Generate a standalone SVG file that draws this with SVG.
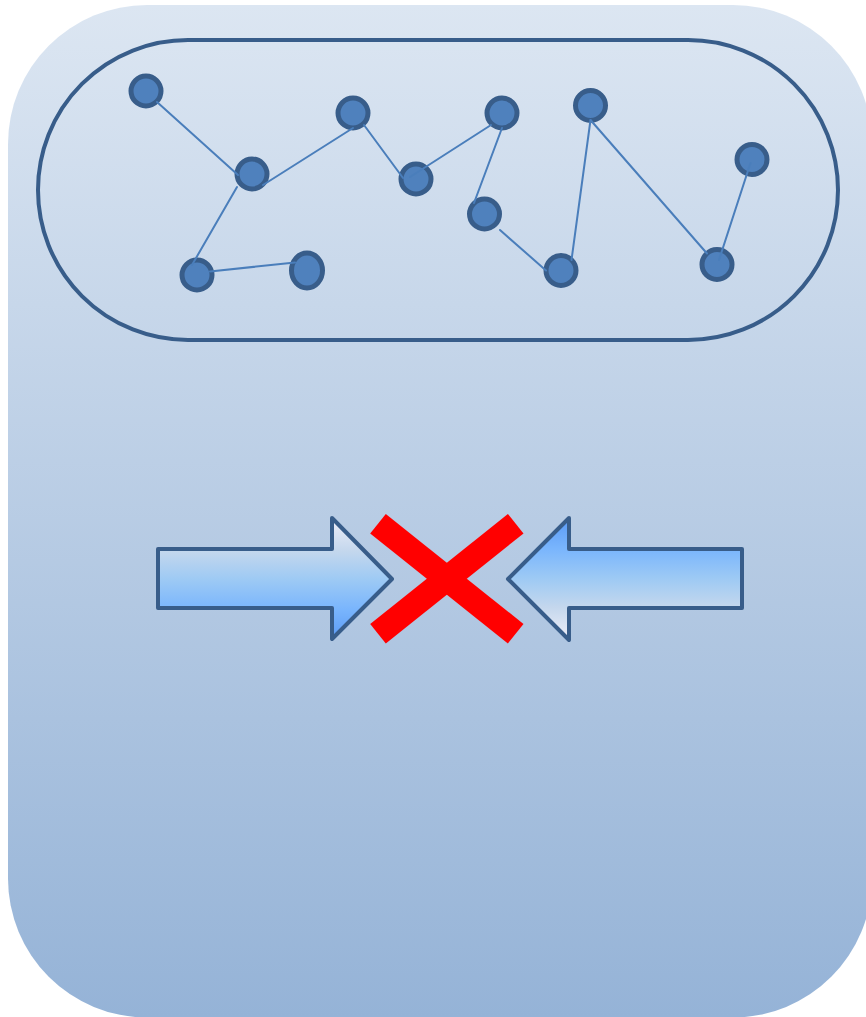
<svg xmlns="http://www.w3.org/2000/svg" width="866" height="1017" viewBox="0 0 866 1017">
  <defs>
    <linearGradient id="bg" x1="0" y1="0" x2="0" y2="1">
      <stop offset="0" stop-color="#dce6f2"/>
      <stop offset="1" stop-color="#95b3d7"/>
    </linearGradient>
    <linearGradient id="arrR" gradientUnits="userSpaceOnUse" x1="0" y1="518" x2="0" y2="640">
      <stop offset="0" stop-color="#eeeef8"/>
      <stop offset="0.27" stop-color="#c4d7ed"/>
      <stop offset="0.5" stop-color="#9ecaf4"/>
      <stop offset="0.75" stop-color="#79b5fd"/>
      <stop offset="1" stop-color="#5a9af5"/>
    </linearGradient>
    <linearGradient id="arrL" gradientUnits="userSpaceOnUse" x1="0" y1="640" x2="0" y2="518">
      <stop offset="0" stop-color="#eeeef8"/>
      <stop offset="0.27" stop-color="#c4d7ed"/>
      <stop offset="0.5" stop-color="#9ecaf4"/>
      <stop offset="0.75" stop-color="#79b5fd"/>
      <stop offset="1" stop-color="#5a9af5"/>
    </linearGradient>
    <style>
      .node { fill: #4f81bd; stroke: #385d8a; stroke-width: 5; }
      .edge { stroke: #4a7ebb; stroke-width: 2; fill: none; stroke-linecap: round; }
      .arrow { stroke: #385d8a; stroke-width: 4; stroke-linejoin: round; }
      .cross { stroke: #ff0000; stroke-width: 25; stroke-linecap: butt; }
    </style>
  </defs>

  <rect id="background" x="8" y="5" width="864" height="1012.5" rx="139" ry="139" fill="url(#bg)"/>

  <rect id="cluster" x="38" y="40" width="800" height="300" rx="150" ry="150" fill="none" stroke="#385d8a" stroke-width="4"/>

  <g id="nodes">
    <g id="n1"><circle class="node" cx="146" cy="91" r="15"/></g>
    <g id="n2"><circle class="node" cx="252" cy="174" r="15"/></g>
    <g id="n3"><circle class="node" cx="197" cy="275" r="15"/></g>
    <g id="n4"><ellipse class="node" cx="307" cy="270.5" rx="15.5" ry="17.5"/></g>
    <g id="n5"><circle class="node" cx="353" cy="113" r="15"/></g>
    <g id="n6"><circle class="node" cx="416" cy="179" r="15"/></g>
    <g id="n7"><circle class="node" cx="502" cy="113" r="15"/></g>
    <g id="n8"><circle class="node" cx="484.5" cy="214" r="15"/></g>
    <g id="n9"><circle class="node" cx="561" cy="270.5" r="15"/></g>
    <g id="n10"><circle class="node" cx="590.5" cy="105.5" r="15"/></g>
    <g id="n11"><circle class="node" cx="752" cy="159.5" r="15"/></g>
    <g id="n12"><circle class="node" cx="717" cy="264.5" r="15"/></g>
  </g>

  <g id="connectors">
    <line class="edge" x1="157" y1="102" x2="238" y2="175"/>
    <line class="edge" x1="263" y1="185" x2="353" y2="128"/>
    <line class="edge" x1="237" y1="187" x2="192" y2="265"/>
    <line class="edge" x1="210" y1="271.5" x2="295" y2="262.5"/>
    <line class="edge" x1="364" y1="125" x2="403" y2="178"/>
    <line class="edge" x1="410" y1="177" x2="491" y2="125"/>
    <line class="edge" x1="502" y1="128" x2="474" y2="203"/>
    <line class="edge" x1="500" y1="230" x2="546" y2="270.5"/>
    <line class="edge" x1="571.5" y1="260" x2="590.5" y2="120"/>
    <line class="edge" x1="590.5" y1="120" x2="707" y2="253.5"/>
    <line class="edge" x1="750.5" y1="163" x2="719" y2="260"/>
  </g>

  <g id="arrow-right">
    <polygon class="arrow" fill="url(#arrR)" points="158,549 332,549 332,518 392,579 332,639 332,608 158,608"/>
  </g>
  <g id="arrow-left">
    <polygon class="arrow" fill="url(#arrL)" points="742,549 569,549 569,518 508,579 569,640 569,608 742,608"/>
  </g>

  <g id="cross">
    <line class="cross" x1="378" y1="523.7" x2="515.7" y2="633.7"/>
    <line class="cross" x1="378" y1="633.7" x2="515.7" y2="523.7"/>
  </g>
</svg>
